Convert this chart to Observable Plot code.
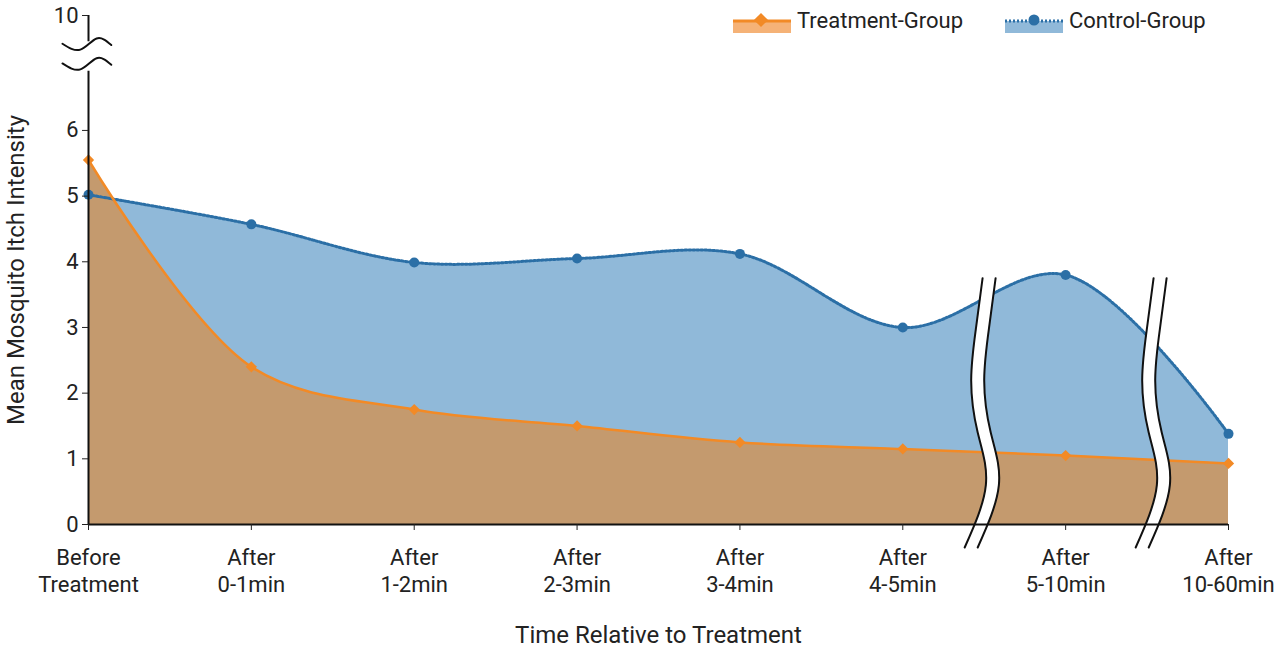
<!DOCTYPE html>
<html><head><meta charset="utf-8">
<script src="https://cdn.jsdelivr.net/npm/d3@7"></script>
<script src="https://cdn.jsdelivr.net/npm/@observablehq/plot@0.6"></script>
<style>
body{margin:0;background:#fff;font-family:Roboto,"Noto Sans",sans-serif;}
#wrap{position:relative;width:1280px;height:652px;}
.leg{position:absolute;top:8px;font-size:22px;color:#222;display:flex;align-items:center;}
</style></head><body>
<div id="wrap"></div>
<script>
const categories = ["Before\nTreatment","After\n0-1min","After\n1-2min","After\n2-3min","After\n3-4min","After\n4-5min","After\n5-10min","After\n10-60min"];
const treatment = [5.55, 2.40, 1.75, 1.50, 1.25, 1.15, 1.05, 0.93];
const control = [5.02, 4.57, 3.99, 4.05, 4.12, 3.00, 3.80, 1.38];
const yTicks = [0,1,2,3,4,5,6,7.75];
const yTickLabels = ["0","1","2","3","4","5","6","10"];
const breakY = [3.75, 3.0, 2.2, 1.4, 0.6, -0.35];
const breakDx = [0.03, -0.01, -0.04, 0.0, 0.05, -0.08];
const breaks = [5.5, 6.55];

const tData = treatment.map((v,i)=>({i,v}));
const cData = control.map((v,i)=>({i,v}));
const bands = [];
breaks.forEach((b,k)=>breakY.forEach((y,j)=>bands.push({k,x:b+breakDx[j],y})));
const gap = 0.04;
const yBreak = [{x:-0.16,y:7.02},{x:-0.05,y:6.93},{x:0.05,y:7.1},{x:0.14,y:7.0}];

const blue="#2b6fa6", orange="#f28a26";
const plot = Plot.plot({
  width:1280,height:652,marginLeft:88,marginRight:52,marginTop:15,marginBottom:128,
  style:{fontFamily:"Roboto, sans-serif",fontSize:"22px",color:"#222"},
  x:{type:"linear",domain:[0,7],label:null},
  y:{domain:[0,7.75],label:null},
  marks:[
    Plot.areaY(cData,{x:"i",y:"v",fill:"#90b9d9",curve:"catmull-rom"}),
    Plot.areaY(tData,{x:"i",y:"v",fill:"#c49a6e",curve:"catmull-rom"}),
    Plot.line(cData,{x:"i",y:"v",stroke:blue,strokeWidth:3,strokeDasharray:"2,2",curve:"catmull-rom"}),
    Plot.line(tData,{x:"i",y:"v",stroke:orange,strokeWidth:2.5,curve:"catmull-rom"}),
    Plot.dot(cData,{x:"i",y:"v",fill:blue,r:5}),
    Plot.dot(tData,{x:"i",y:"v",fill:orange,symbol:"square",r:4.5,rotate:45}),
    Plot.line(bands,{x:"x",y:"y",z:"k",stroke:"#fff",strokeWidth:12,curve:"natural",clip:false}),
    Plot.line(bands,{x:d=>d.x-gap,y:"y",z:"k",stroke:"#111",strokeWidth:2,curve:"natural",clip:false}),
    Plot.line(bands,{x:d=>d.x+gap,y:"y",z:"k",stroke:"#111",strokeWidth:2,curve:"natural",clip:false}),
    Plot.ruleY([0],{stroke:"#111",strokeWidth:2}),
    Plot.ruleX([0],{y1:0,y2:6.9,stroke:"#111",strokeWidth:2}),
    Plot.ruleX([0],{y1:7.35,y2:7.75,stroke:"#111",strokeWidth:2}),
    Plot.line(yBreak,{x:"x",y:"y",stroke:"#111",strokeWidth:2,curve:"natural"}),
    Plot.line(yBreak,{x:"x",y:d=>d.y+0.3,stroke:"#111",strokeWidth:2,curve:"natural"}),
    Plot.axisY({ticks:yTicks,tickFormat:d=>yTickLabels[yTicks.indexOf(d)],tickSize:6,tickPadding:4,label:null,fontSize:22}),
    Plot.axisX({ticks:d3.range(8),tickFormat:i=>categories[i],tickSize:6,tickPadding:16,fontSize:22,lineHeight:1.2,label:null}),
    Plot.text(["Time Relative to Treatment"],{frameAnchor:"bottom",dy:118,fontSize:24,fill:"#222"}),
    Plot.text(["Mean Mosquito Itch Intensity"],{frameAnchor:"left",dx:-72,rotate:-90,textAnchor:"middle",fontSize:24,fill:"#222"})
  ]
});
document.getElementById("wrap").appendChild(plot);
const leg = document.createElement("div");
leg.innerHTML = `<div class="leg" style="left:733px"><svg width="58" height="24"><rect x="0" y="12" width="58" height="12" fill="#f5b277"/><line x1="0" y1="12" x2="58" y2="12" stroke="${orange}" stroke-width="3"/><rect x="23" y="6" width="10" height="10" transform="rotate(45 28 11)" fill="${orange}"/></svg><span style="margin-left:6px">Treatment-Group</span></div>
<div class="leg" style="left:1005px"><svg width="58" height="24"><rect x="0" y="12" width="58" height="12" fill="#90b9d9"/><line x1="0" y1="12" x2="58" y2="12" stroke="${blue}" stroke-width="3" stroke-dasharray="2,2"/><circle cx="29" cy="11" r="5.5" fill="${blue}"/></svg><span style="margin-left:6px">Control-Group</span></div>`;
document.getElementById("wrap").appendChild(leg);
</script></body></html>
